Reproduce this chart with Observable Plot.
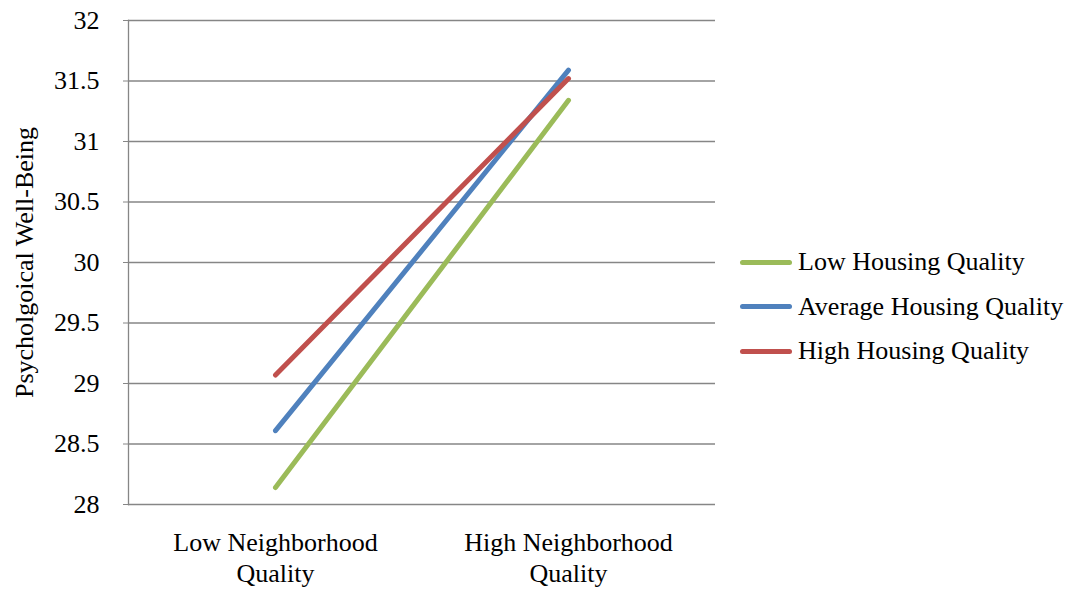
<!DOCTYPE html>
<html>
<head>
<meta charset="utf-8">
<script src="https://cdn.jsdelivr.net/npm/d3@7"></script>
<script src="https://cdn.jsdelivr.net/npm/@observablehq/plot@0.6"></script>
<style>
  html, body { margin: 0; padding: 0; background: #fff; }
  #wrap { position: relative; width: 1078px; height: 590px; font-family: "Liberation Serif", "Times New Roman", serif; }
  #legend { position: absolute; left: 740px; top: 240px; font-size: 26px; color: #000; }
  #legend .item { display: flex; align-items: center; height: 44.5px; }
  #legend .sw { width: 52px; height: 5px; border-radius: 3px; margin-right: 6px; }
</style>
</head>
<body>
<div id="wrap"></div>
<script>
const categories = ["Low Neighborhood\nQuality", "High Neighborhood\nQuality"];
const seriesNames = ["Low Housing Quality", "Average Housing Quality", "High Housing Quality"];
const seriesColors = ["#9BBB59", "#4F81BD", "#C0504D"];
const lowHousing = [28.14, 31.34];
const avgHousing = [28.61, 31.59];
const highHousing = [29.07, 31.52];
const yTicks = [28, 28.5, 29, 29.5, 30, 30.5, 31, 31.5, 32];
const yLabel = "Psycholgoical Well-Being";

const seriesValues = [lowHousing, avgHousing, highHousing];
const data = [];
seriesNames.forEach((s, i) => categories.forEach((c, j) => data.push({series: s, cat: c, value: seriesValues[i][j]})));

const chart = Plot.plot({
  width: 1078,
  height: 590,
  marginLeft: 128,
  marginRight: 363,
  marginTop: 20,
  marginBottom: 86,
  style: {fontFamily: "'Liberation Serif', 'Times New Roman', serif", fontSize: "26px", color: "#000", background: "#fff"},
  x: {type: "point", domain: categories, padding: 0.5},
  y: {domain: [28, 32]},
  color: {domain: seriesNames, range: seriesColors},
  marks: [
    Plot.gridY(yTicks, {stroke: "#868686", strokeOpacity: 1, strokeWidth: 1.3}),
    Plot.frame({anchor: "left", stroke: "#868686", strokeWidth: 1.3}),
    Plot.axisY(yTicks, {tickFormat: d => String(d), tickSize: 5, tickPadding: 24, stroke: "#868686", fontSize: 26, label: yLabel, labelAnchor: "center", labelOffset: 114, labelArrow: "none"}),
    Plot.axisX({tickSize: 0, tickPadding: 24, fontSize: 26, lineHeight: 1.2, label: null}),
    Plot.line(data, {x: "cat", y: "value", z: "series", stroke: "series", strokeWidth: 5, strokeLinecap: "round"})
  ]
});
document.getElementById("wrap").appendChild(chart);

const legend = document.createElement("div");
legend.id = "legend";
seriesNames.forEach((s, i) => {
  const item = document.createElement("div");
  item.className = "item";
  const sw = document.createElement("div");
  sw.className = "sw";
  sw.style.background = seriesColors[i];
  const t = document.createElement("span");
  t.textContent = s;
  item.appendChild(sw);
  item.appendChild(t);
  legend.appendChild(item);
});
document.getElementById("wrap").appendChild(legend);
</script>
</body>
</html>
